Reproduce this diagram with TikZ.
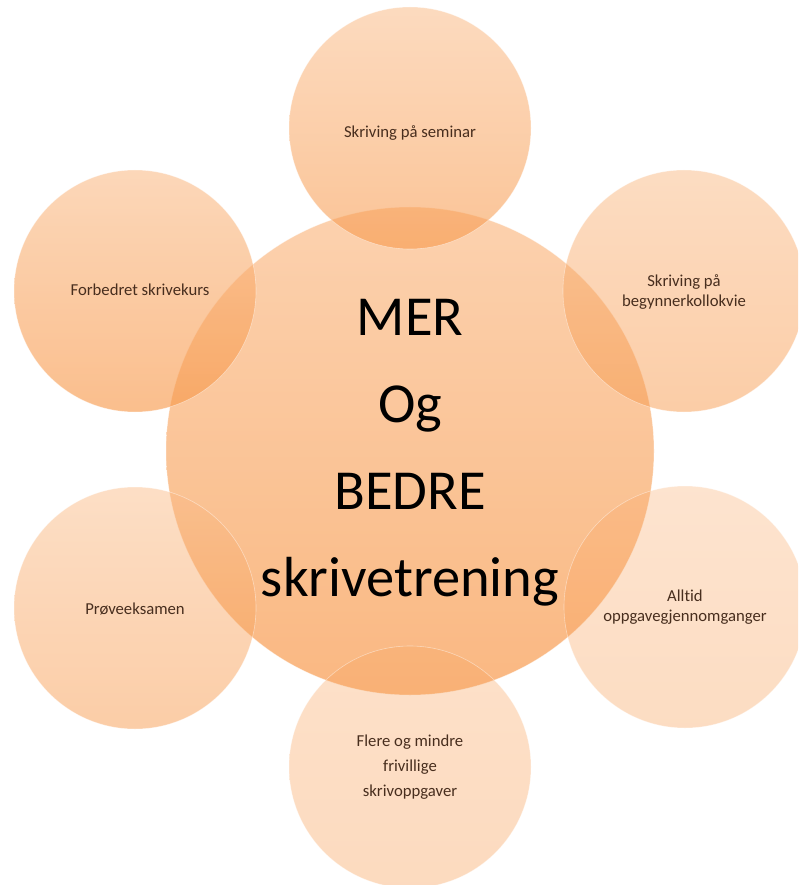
\documentclass[tikz,border=0pt]{standalone}
\usepackage{fontspec}
\setmainfont[Ligatures={NoCommon}]{Carlito}
\definecolor{baseorange}{RGB}{247,150,70}
\definecolor{labelbrown}{RGB}{72,46,30}
\begin{document}
\begin{tikzpicture}[x=1pt,y=-1pt,
  bubble/.style={circle, inner sep=0pt, outer sep=0pt, minimum size=242pt,
    draw=white, draw opacity=0.45, line width=0.6pt},
  lbl/.style={text=labelbrown, align=center, inner sep=0pt,
    font=\fontsize{16.7}{19.5}\selectfont},
  hubtext/.style={text=black, align=center, inner sep=0pt,
    font=\fontsize{56.5}{87}\selectfont}
]
\useasboundingbox (0,0) rectangle (798,885);
\clip (0,0) rectangle (798,885);
% circles
\node[bubble, minimum size=488pt, fill opacity=0.68,
  top color=baseorange!64!white, bottom color=baseorange] (hub) at (410,451) {};
\node[bubble, fill opacity=0.57, top color=baseorange!61!white, bottom color=baseorange] (ctop) at (410,128) {};
\node[bubble, fill opacity=0.48, top color=baseorange!69!white, bottom color=baseorange] (ctr) at (684,291) {};
\node[bubble, fill opacity=0.33, top color=baseorange!79!white, bottom color=baseorange] (cbr) at (685,607) {};
\node[bubble, fill opacity=0.35, top color=baseorange!83!white, bottom color=baseorange] (cbot) at (410,767) {};
\node[bubble, fill opacity=0.48, top color=baseorange!65!white, bottom color=baseorange] (cbl) at (135,608) {};
\node[bubble, fill opacity=0.62, top color=baseorange!61!white, bottom color=baseorange] (ctl) at (135,291) {};
% labels
\node[hubtext] (thub) at (410,453) {MER\\Og\\BEDRE\\skrivetrening};
\node[lbl] (ttop) at ([yshift=-5pt]ctop.center) {Skriving på seminar};
\node[lbl] (ttr) at ([yshift=-1pt]ctr.center) {Skriving på\\begynnerkollokvie};
\node[lbl] (tbr) at (cbr.center) {Alltid\\oppgavegjennomganger};
\node[lbl, font=\fontsize{16.7}{25}\selectfont] (tbot) at (cbot.center) {Flere og mindre\\frivillige\\skrivoppgaver};
\node[lbl] (tbl) at ([yshift=-1pt]cbl.center) {Prøveeksamen};
\node[lbl] (ttl) at ([xshift=5pt,yshift=1pt]ctl.center) {Forbedret skrivekurs};
\end{tikzpicture}
\end{document}
